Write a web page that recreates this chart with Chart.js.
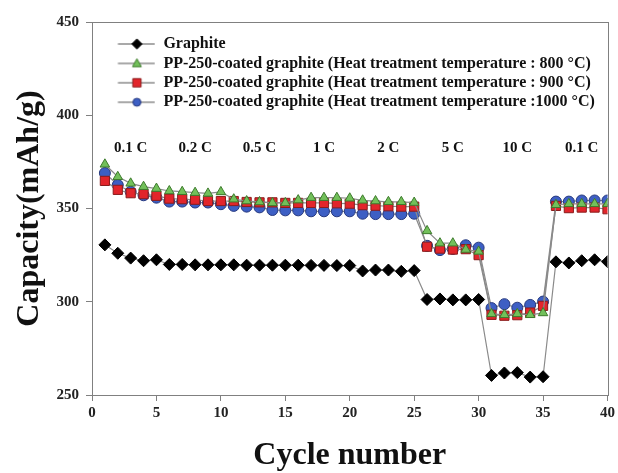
<!DOCTYPE html>
<html>
<head>
<meta charset="utf-8">
<script src="https://cdn.jsdelivr.net/npm/chart.js@4.4.1/dist/chart.umd.min.js"></script>
<style>
  html, body { margin: 0; padding: 0; background: #ffffff; }
  #wrap { width: 618px; height: 473px; }
</style>
</head>
<body>
<div id="wrap"><canvas id="c" width="618" height="473"></canvas></div>
<script>
// ---- data ----
const cycles = [1,2,3,4,5,6,7,8,9,10,11,12,13,14,15,16,17,18,19,20,21,22,23,24,25,26,27,28,29,30,31,32,33,34,35,36,37,38,39,40];

const graphite = [330.5, 326, 323.4, 322, 322.5, 320, 320, 319.8, 319.8, 319.8,
                  319.8, 319.6, 319.6, 319.6, 319.6, 319.6, 319.5, 319.5, 319.4, 319.4,
                  316.5, 317, 317, 316.3, 316.7, 301.2, 301.5, 301, 301, 301.2,
                  260.5, 261.8, 262, 259.6, 259.8, 321.4, 320.8, 322, 322.5, 321.5];

const coated800 = [373.7, 367, 363.5, 361.7, 360.7, 359.4, 359, 358.5, 358.1, 358.9,
                   355, 354, 353.5, 353, 353, 354.5, 355.8, 355.8, 355.8, 355.5,
                   354.4, 354, 353.6, 353.6, 353.2, 338, 331.4, 331.4, 328, 327,
                   293.5, 293, 293.5, 293, 294, 352, 352.5, 352.5, 352.5, 352.5];

const coated900 = [364.8, 360, 358.2, 357.7, 356.8, 355.3, 355, 354.7, 354, 354,
                   354, 353.5, 353.3, 353.3, 353, 353, 353, 353, 352.8, 352.6,
                   351.8, 351.5, 351.2, 351, 351, 329.5, 328.5, 328, 328.2, 325,
                   293, 292.5, 292.8, 294.2, 297.8, 351.4, 350.2, 350.5, 350.5, 349.6];

const coated1000 = [369, 362.6, 359, 357.1, 355.8, 353.7, 353.7, 353.2, 353.2, 352.3,
                    351.4, 351, 350.6, 349.2, 349, 349, 348.5, 348.5, 348.5, 348.5,
                    347.2, 347, 347, 347, 347.2, 330, 327.7, 328.3, 330.3, 329,
                    296.6, 298.7, 296.8, 298.3, 300.1, 353.7, 353.7, 354.3, 354.3, 354.3];

const seriesNames = [
  'Graphite',
  'PP-250-coated graphite (Heat treatment temperature : 800 \u00B0C)',
  'PP-250-coated graphite (Heat treatment temperature : 900 \u00B0C)',
  'PP-250-coated graphite (Heat treatment temperature :1000 \u00B0C)'
];

const rateLabels = ['0.1 C', '0.2 C', '0.5 C', '1 C', '2 C', '5 C', '10 C', '0.1 C'];
const rateCycles = [3, 8, 13, 18, 23, 28, 33, 38];
const rateLevel = 382.5;

const yTicks = [250, 300, 350, 400, 450];
const xTicks = [0, 5, 10, 15, 20, 25, 30, 35, 40];

// ---- styles ----
const SERIF = "'Liberation Serif', 'Times New Roman', serif";
const lineGray = '#8a8a8a';
const styles = [
  { style: 'rectRot',  radius: 6,   fill: '#000000', border: '#000000' },
  { style: 'triangle', radius: 5.5, fill: '#72c05a', border: '#3d7a2c' },
  { style: 'rect',     radius: 6.5, fill: '#e2252b', border: '#8a1c1c' },
  { style: 'circle',   radius: 5.5, fill: '#3d5fc4', border: '#27397e' }
];
const seriesValues = [graphite, coated800, coated900, coated1000];

function toPoints(vals) { return cycles.map((c, i) => ({ x: c, y: vals[i] })); }

// legend icons: line segment with marker
const ICON_W = 60;
function makeIcon(st) {
  const cv = document.createElement('canvas');
  cv.width = ICON_W; cv.height = 16;
  const g = cv.getContext('2d');
  g.strokeStyle = '#555';
  g.lineWidth = 1.2;
  g.beginPath(); g.moveTo(22.5, 8); g.lineTo(59.5, 8); g.stroke();
  g.fillStyle = st.fill; g.strokeStyle = st.border; g.lineWidth = 1;
  const cx = 41.5, cy = 8, r = st.radius * 0.85;
  g.beginPath();
  if (st.style === 'rectRot') {
    g.moveTo(cx, cy - r); g.lineTo(cx + r, cy); g.lineTo(cx, cy + r); g.lineTo(cx - r, cy); g.closePath();
  } else if (st.style === 'triangle') {
    g.moveTo(cx, cy - r); g.lineTo(cx + r * 0.95, cy + r * 0.7); g.lineTo(cx - r * 0.95, cy + r * 0.7); g.closePath();
  } else if (st.style === 'rect') {
    const s = r * 0.75; g.rect(cx - s, cy - s, 2 * s, 2 * s);
  } else {
    g.arc(cx, cy, r * 0.85, 0, Math.PI * 2);
  }
  g.fill(); g.stroke();
  return cv;
}
const icons = styles.map(makeIcon);

const datasets = seriesValues.map((vals, i) => ({
  label: seriesNames[i],
  data: toPoints(vals),
  borderColor: lineGray,
  borderWidth: 1.2,
  pointStyle: styles[i].style,
  pointRadius: styles[i].radius,
  pointBackgroundColor: styles[i].fill,
  pointBorderColor: styles[i].border,
  pointBorderWidth: 1,
  tension: 0,
  fill: false,
  order: [4, 1, 2, 3][i]
}));

const framePlugin = {
  id: 'frame',
  afterDraw(chart) {
    const { ctx, chartArea: a } = chart;
    ctx.save();
    ctx.strokeStyle = '#808080';
    ctx.lineWidth = 1;
    ctx.strokeRect(Math.round(a.left) + 0.5, Math.round(a.top) + 0.5, Math.round(a.right - a.left), Math.round(a.bottom - a.top));
    ctx.restore();
  }
};

const rateLabelPlugin = {
  id: 'rateLabels',
  afterDatasetsDraw(chart) {
    const { ctx, scales } = chart;
    ctx.save();
    ctx.font = 'bold 15px ' + SERIF;
    ctx.fillStyle = '#111';
    ctx.textAlign = 'center';
    ctx.textBaseline = 'middle';
    rateLabels.forEach((t, i) => {
      ctx.fillText(t, scales.x.getPixelForValue(rateCycles[i]), scales.y.getPixelForValue(rateLevel));
    });
    ctx.restore();
  }
};

new Chart(document.getElementById('c'), {
  type: 'line',
  data: { datasets },
  plugins: [framePlugin, rateLabelPlugin],
  options: {
    responsive: false,
    animation: false,
    layout: { padding: { left: 0, top: 22, right: 8, bottom: 0 } },
    plugins: {
      tooltip: { enabled: false },
      legend: {
        position: 'chartArea',
        align: 'start',
        title: { display: true, text: ' ', font: { size: 8 }, padding: { top: 23, bottom: 0 } },
        labels: {
          usePointStyle: true,
          pointStyleWidth: ICON_W,
          padding: 3.4,
          color: '#111',
          font: { family: SERIF, size: 16, weight: 'bold' },
          generateLabels: () => seriesNames.map((n, i) => ({
            text: n, pointStyle: icons[i], datasetIndex: i, hidden: false,
            lineWidth: 0, fillStyle: styles[i].fill, strokeStyle: styles[i].border, fontColor: '#111'
          }))
        }
      }
    },
    scales: {
      x: {
        type: 'linear',
        min: 0, max: 40,
        afterFit(s) { s.height = 78; },
        afterBuildTicks(s) { s.ticks = xTicks.map(v => ({ value: v })); },
        grid: { drawOnChartArea: false, drawTicks: true, tickLength: 6, color: '#808080' },
        border: { display: true, color: '#808080' },
        ticks: { padding: 3, color: '#222', font: { family: SERIF, size: 15, weight: 'bold' }, maxRotation: 0 },
        title: { display: true, text: 'Cycle number', color: '#111', padding: 0,
                 font: { family: SERIF, size: 32, weight: 'bold', lineHeight: 1.05 } }
      },
      y: {
        min: 250, max: 450,
        afterFit(s) { s.width = 92; },
        afterBuildTicks(s) { s.ticks = yTicks.map(v => ({ value: v })); },
        grid: { drawOnChartArea: false, drawTicks: true, tickLength: 6, color: '#808080' },
        border: { display: true, color: '#808080' },
        ticks: { padding: 7, color: '#222', font: { family: SERIF, size: 15, weight: 'bold' } },
        title: { display: true, text: 'Capacity(mAh/g)', color: '#111', padding: { top: 11, bottom: 0 },
                 font: { family: SERIF, size: 32, weight: 'bold', lineHeight: 1.2 } }
      }
    }
  }
});
</script>
</body>
</html>
